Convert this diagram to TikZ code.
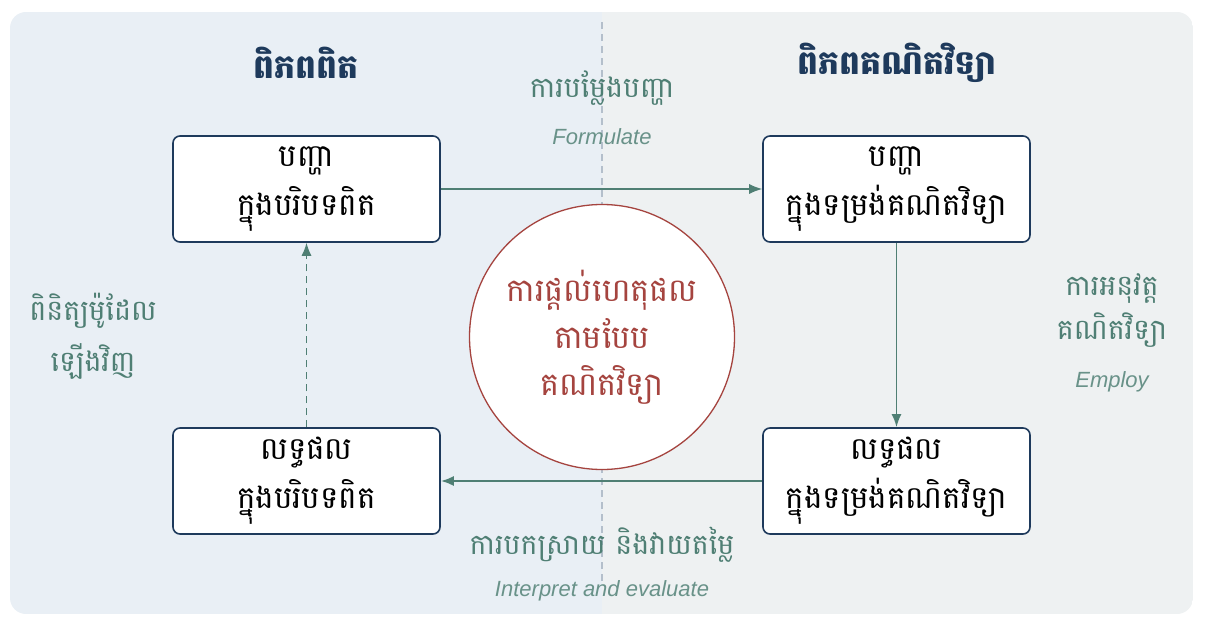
\documentclass[tikz,border=0pt]{standalone}
\usepackage{fontspec}
\setmainfont{Liberation Sans}
\newfontfamily\khmer[Script=Khmer]{Battambang}
\usetikzlibrary{arrows.meta}

\definecolor{leftbg}{HTML}{E9EFF5}
\definecolor{rightbg}{HTML}{EEF1F2}
\definecolor{navy}{HTML}{1E3A5C}
\definecolor{teal}{HTML}{4F7F74}
\definecolor{darkred}{HTML}{A5443F}
\definecolor{divider}{HTML}{B4BFCB}

\tikzset{
  box/.style={draw=navy, line width=1.6pt, fill=white, rounded corners=7pt,
    minimum width=267pt, minimum height=106pt, align=center,
    font=\khmer\fontsize{31}{49}\selectfont, text=black, inner sep=0pt},
  title/.style={font=\khmer\bfseries\fontsize{33}{38}\selectfont, text=navy},
  lbl/.style={font=\khmer\fontsize{28.5}{44}\selectfont, text=teal, align=center},
  eng/.style={font=\itshape\fontsize{22}{26}\selectfont, text=teal!85},
  flow/.style={draw=teal, -{Latex[length=13pt,width=10pt]}}
}

\begin{document}
\begin{tikzpicture}[x=1pt,y=-1pt]
  \useasboundingbox (0,0) rectangle (1206,628);
  % two halves of the panel
  \begin{scope}
    \clip[rounded corners=16pt] (10,12) rectangle (1193,614);
    \fill[leftbg] (10,12) rectangle (602,614);
    \fill[rightbg] (602,12) rectangle (1193,614);
  \end{scope}
  \draw[divider, line width=1.2pt, dash pattern=on 7pt off 5pt] (602,22) -- (602,585);

  \node[title] at (306,63) {ពិភពពិត};
  \node[title] at (897,63) {ពិភពគណិតវិទ្យា};

  \node[box] (probreal) at (306.5,189) {បញ្ហា\\ក្នុងបរិបទពិត};
  \node[box] (probmath) at (896.5,189) {បញ្ហា\\ក្នុងទម្រង់គណិតវិទ្យា};
  \node[box] (resreal) at (306.5,481) {លទ្ធផល\\ក្នុងបរិបទពិត};
  \node[box] (resmath) at (896.5,481) {លទ្ធផល\\ក្នុងទម្រង់គណិតវិទ្យា};

  \node[circle, draw=darkred, line width=1.3pt, fill=white, minimum size=265pt,
    align=center, text=darkred, font=\khmer\fontsize{32}{47}\selectfont] (reason) at (602,337)
    {ការផ្តល់ហេតុផល\\តាមបែប\\គណិតវិទ្យា};

  \draw[flow, line width=1.3pt] (probreal) -- (probmath);
  \draw[flow, line width=1.9pt] (probmath) -- (resmath);
  \draw[flow, line width=2.1pt] (resmath) -- (resreal);
  \draw[flow, line width=1.3pt, dash pattern=on 7pt off 5pt] (resreal) -- (probreal);

  \node[lbl] at (602,88) {ការបម្លែងបញ្ហា};
  \node[eng] at (602,137) {Formulate};
  \node[lbl] at (1112,311) {ការអនុវត្ត\\គណិតវិទ្យា};
  \node[eng] at (1112,382) {Employ};
  \node[lbl] at (602,545) {ការបកស្រាយ និងវាយតម្លៃ};
  \node[eng] at (602,591) {Interpret and evaluate};
  \node[lbl, font=\khmer\fontsize{28.5}{51}\selectfont] at (93,336) {ពិនិត្យម៉ូដែល\\ឡើងវិញ};
\end{tikzpicture}
\end{document}
